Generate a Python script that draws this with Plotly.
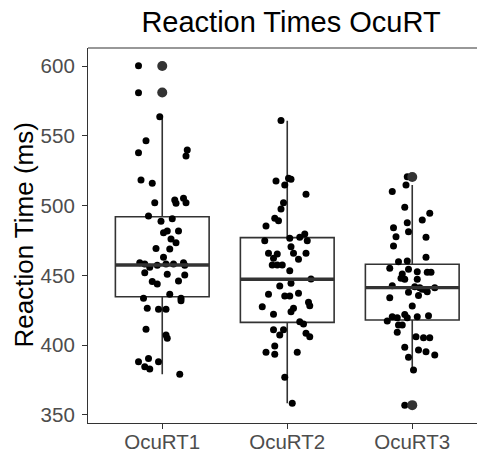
import plotly.graph_objects as go

# ---------------- data ----------------
categories = ["OcuRT1", "OcuRT2", "OcuRT3"]

ocurt1_ms = [600.2, 580.9, 563.7, 546.5, 537.9, 539.8, 535.5, 518.3, 516.0, 502.1,
             504.0, 501.6, 505.2, 502.1, 492.5, 490.6, 488.7, 480.6, 481.8, 481.8,
             476.0, 473.4, 469.3, 468.9, 462.9, 459.1, 458.1, 455.8, 457.2, 458.1,
             458.1, 459.1, 457.2, 451.9, 450.8, 450.3, 445.5, 443.8, 446.0, 433.6,
             436.4, 433.6, 431.8, 426.4, 425.7, 425.7, 411.3, 407.3, 404.9, 388.1,
             390.5, 384.5, 382.9, 388.1, 379.1]
ocurt1_jitter = [-0.19, -0.19, -0.02, -0.13, -0.19, 0.20, 0.19, -0.17, -0.08, -0.06,
                 0.10, 0.11, 0.17, 0.19, -0.11, 0.08, -0.01, 0.01, 0.04, 0.13,
                 0.07, 0.11, -0.05, 0.06, 0.01, -0.18, -0.14, -0.10, -0.04, 0.03,
                 0.09, 0.17, 0.18, -0.14, 0.04, 0.18, -0.08, -0.04, 0.13, -0.15,
                 0.06, 0.15, 0.15, -0.12, -0.03, 0.03, -0.13, 0.03, 0.04, -0.19,
                 -0.11, -0.14, -0.10, -0.03, 0.14]

ocurt2_ms = [561.0, 517.6, 519.5, 518.8, 514.7, 508.1, 502.1, 497.5, 490.9, 489.2,
             485.4, 474.8, 476.5, 477.3, 479.6, 474.8, 465.8, 465.3, 470.5, 465.8,
             465.8, 461.5, 457.4, 457.4, 457.4, 453.3, 447.4, 442.4, 444.3, 436.4,
             435.2, 435.2, 437.1, 430.7, 428.3, 427.5, 426.4, 422.1, 424.0, 416.8,
             415.2, 411.0, 407.3, 411.0, 408.5, 406.0, 399.4, 394.9, 393.4, 394.9,
             377.0, 358.3, 462.2]
ocurt2_jitter = [-0.05, -0.09, 0.01, 0.03, -0.02, 0.15, -0.03, -0.05, -0.10, -0.07,
                 -0.17, -0.18, 0.02, 0.10, 0.14, 0.16, -0.15, -0.08, 0.03, 0.05,
                 0.15, 0.09, -0.12, -0.08, -0.04, 0.02, 0.19, -0.06, 0.03, -0.15,
                 -0.02, 0.02, 0.09, 0.17, 0.18, -0.20, 0.05, -0.11, 0.03, 0.10,
                 0.13, -0.11, -0.06, -0.03, 0.15, 0.18, -0.10, -0.17, -0.10, 0.08,
                 -0.02, 0.04, -0.11]

ocurt3_ms = [520.7, 514.7, 510.0, 498.8, 494.5, 489.7, 487.7, 484.1, 481.3, 477.7,
             477.3, 471.0, 462.9, 459.8, 460.3, 455.0, 454.3, 451.0, 452.6, 452.2,
             452.2, 447.9, 447.2, 447.2, 442.6, 441.9, 441.1, 440.0, 439.5, 441.1,
             437.8, 438.3, 434.0, 428.0, 420.4, 419.7, 422.0, 419.7, 420.4, 421.1,
             417.3, 414.4, 414.4, 409.2, 406.0, 405.3, 405.3, 398.4, 396.5, 395.3,
             392.9, 391.3, 382.2, 357.0, 435.5]
ocurt3_jitter = [-0.04, -0.05, -0.16, -0.06, 0.14, 0.08, -0.04, -0.15, -0.03, -0.13,
                 0.11, -0.15, 0.11, -0.11, -0.04, -0.18, -0.03, -0.08, 0.04, 0.12,
                 0.15, -0.09, -0.06, 0.04, -0.16, 0.02, 0.06, 0.08, 0.11, 0.18,
                 -0.03, 0.12, -0.18, 0.00, -0.16, -0.12, -0.06, -0.04, 0.04, 0.13,
                 -0.20, -0.11, -0.08, -0.12, 0.03, 0.09, 0.14, -0.06, 0.05, 0.11,
                 0.18, -0.03, 0.01, -0.06, 0.05]

# box statistics
box_lower = [379.1, 358.3, 382.2]
box_q1 = [434.7, 416.3, 418.0]
box_median = [457.4, 447.2, 441.2]
box_q3 = [492.0, 477.0, 457.9]
box_upper = [563.7, 560.8, 514.7]

# boxplot outliers (category index, value)
outlier_cat = [1, 1, 3, 3]
outlier_ms = [600.0, 581.0, 520.5, 357.0]

y_ticks = [350, 400, 450, 500, 550, 600]

# ---------------- figure ----------------
positions = [1, 2, 3]
BOX_W = 0.75
LINE_C = "#333333"

fig = go.Figure()

fig.add_trace(go.Box(
    x=positions, q1=box_q1, median=box_median, q3=box_q3,
    lowerfence=box_lower, upperfence=box_upper,
    width=BOX_W, whiskerwidth=0, boxpoints=False,
    fillcolor="rgba(255,255,255,0)",
    line=dict(color=LINE_C, width=1.6),
    showlegend=False, hoverinfo="skip",
))

groups = [(ocurt1_ms, ocurt1_jitter), (ocurt2_ms, ocurt2_jitter), (ocurt3_ms, ocurt3_jitter)]
jx, jy = [], []
for pos, (vals, jit) in zip(positions, groups):
    jx += [pos + j for j in jit]
    jy += vals
fig.add_trace(go.Scatter(
    x=jx, y=jy, mode="markers",
    marker=dict(color="black", size=7, line=dict(width=0)),
    showlegend=False, hoverinfo="skip",
))

# thick median lines
mx, my = [], []
for pos, m in zip(positions, box_median):
    mx += [pos - BOX_W / 2, pos + BOX_W / 2, None]
    my += [m, m, None]
fig.add_trace(go.Scatter(
    x=mx, y=my, mode="lines", line=dict(color=LINE_C, width=3.4),
    showlegend=False, hoverinfo="skip",
))

fig.add_trace(go.Scatter(
    x=outlier_cat, y=outlier_ms, mode="markers",
    marker=dict(color=LINE_C, size=10, line=dict(width=0)),
    showlegend=False, hoverinfo="skip",
))

W, H = 477, 452
ml, mr, mt, mb = 88, 0, 48, 29
pw = W - ml - mr

fig.update_layout(
    width=W, height=H,
    margin=dict(l=ml, r=mr, t=mt, b=mb, pad=0, autoexpand=False),
    paper_bgcolor="white", plot_bgcolor="white",
    font=dict(family="Liberation Sans, Arial, sans-serif", color="#4d4d4d"),
    title=dict(
        text="Reaction Times OcuRT",
        font=dict(size=29, color="black"),
        x=(291 - ml) / pw, xref="paper", xanchor="center",
        y=1 - 22 / H, yref="container", yanchor="middle",
    ),
    xaxis=dict(
        range=[0.406, 3.518], tickmode="array", tickvals=positions, ticktext=categories,
        showgrid=False, zeroline=False, automargin=False,
        showline=True, linecolor=LINE_C, linewidth=1.2, mirror=False,
        ticks="outside", ticklen=5, tickwidth=1.2, tickcolor=LINE_C,
        tickfont=dict(size=20.5, color="#4d4d4d"),
        ticklabelstandoff=-5,
    ),
    yaxis=dict(
        range=[344.2, 612.9], tickmode="array", tickvals=y_ticks,
        showgrid=False, zeroline=False, automargin=False,
        showline=True, linecolor=LINE_C, linewidth=1.2, mirror=False,
        ticks="outside", ticklen=5, tickwidth=1.2, tickcolor=LINE_C,
        tickfont=dict(size=20.5, color="#4d4d4d"),
        ticklabelstandoff=3,
    ),
    shapes=[dict(
        type="line", xref="paper", yref="paper", x0=0, x1=1, y0=1, y1=1,
        line=dict(color=LINE_C, width=1.2),
    )],
    annotations=[dict(
        text="Reaction Time (ms)", textangle=-90,
        xref="paper", yref="paper", x=(23 - ml) / pw, y=0.5,
        xanchor="center", yanchor="middle", showarrow=False,
        font=dict(size=26, color="black"),
    )],
)

fig.write_html("out.html", config={"displayModeBar": False})
